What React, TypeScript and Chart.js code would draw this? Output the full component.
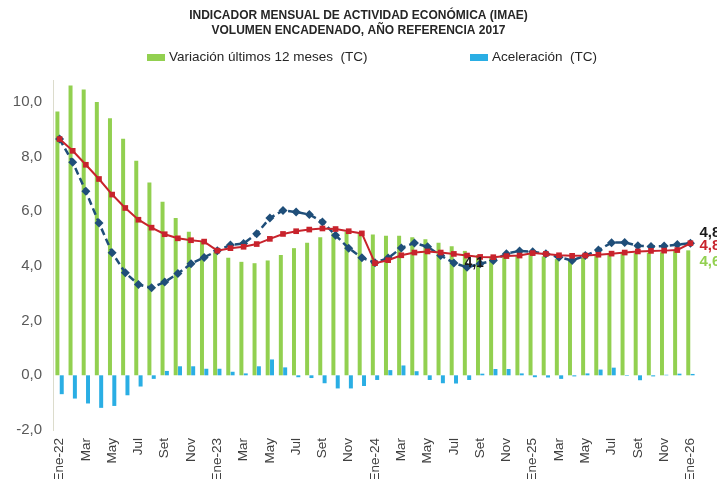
import React, { useEffect, useRef } from "react";
import { Chart, registerables } from "chart.js";

Chart.register(...registerables);

const TITLE_LINES = [
  "INDICADOR MENSUAL DE ACTIVIDAD ECONÓMICA (IMAE)",
  "VOLUMEN ENCADENADO, AÑO REFERENCIA 2017",
];

const categories = [
  "Ene-22", "Feb", "Mar", "Abr", "May", "Jun", "Jul", "Ago", "Set", "Oct", "Nov", "Dic",
  "Ene-23", "Feb", "Mar", "Abr", "May", "Jun", "Jul", "Ago", "Set", "Oct", "Nov", "Dic",
  "Ene-24", "Feb", "Mar", "Abr", "May", "Jun", "Jul", "Ago", "Set", "Oct", "Nov", "Dic",
  "Ene-25", "Feb", "Mar", "Abr", "May", "Jun", "Jul", "Ago", "Set", "Oct", "Nov", "Dic",
  "Ene-26",
];

// Variación últimos 12 meses (TC) - green bars
const variacion12 = [
  9.65, 10.6, 10.45, 10.0, 9.4, 8.65, 7.85, 7.05, 6.35, 5.75, 5.25, 4.9,
  4.5, 4.3, 4.15, 4.1, 4.2, 4.4, 4.65, 4.85, 5.05, 5.2, 5.25, 5.2,
  5.15, 5.1, 5.1, 5.05, 4.98, 4.85, 4.72, 4.55, 4.4, 4.3, 4.35, 4.4,
  4.45, 4.35, 4.25, 4.2, 4.3, 4.38, 4.45, 4.5, 4.48, 4.48, 4.5, 4.55,
  4.57,
];

// Aceleración (TC) - blue bars
const aceleracion = [
  -0.69, -0.85, -1.03, -1.19, -1.12, -0.73, -0.41, -0.13, 0.16, 0.33, 0.33, 0.24,
  0.24, 0.13, 0.07, 0.33, 0.58, 0.29, -0.07, -0.1, -0.29, -0.48, -0.48, -0.39,
  -0.17, 0.19, 0.36, 0.15, -0.17, -0.29, -0.3, -0.17, 0.06, 0.23, 0.23, 0.07,
  -0.07, -0.08, -0.13, -0.04, 0.07, 0.21, 0.28, -0.02, -0.18, -0.04, 0.02, 0.06,
  0.05,
];

// Red line with square markers
const lineaRoja = [
  8.64, 8.21, 7.7, 7.18, 6.61, 6.12, 5.69, 5.4, 5.16, 5.01, 4.94, 4.89,
  4.56, 4.65, 4.7, 4.8, 4.99, 5.17, 5.27, 5.33, 5.37, 5.35, 5.27, 5.19,
  4.1, 4.21, 4.39, 4.49, 4.53, 4.49, 4.44, 4.38, 4.33, 4.32, 4.36, 4.38,
  4.47, 4.44, 4.39, 4.37, 4.38, 4.41, 4.45, 4.49, 4.53, 4.55, 4.56, 4.58,
  4.83,
];

// Dark blue dashed line with diamond markers
const lineaAzul = [
  8.64, 7.79, 6.73, 5.57, 4.48, 3.75, 3.32, 3.2, 3.41, 3.72, 4.08, 4.31,
  4.56, 4.77, 4.82, 5.18, 5.75, 6.03, 5.97, 5.88, 5.61, 5.12, 4.65, 4.3,
  4.12, 4.29, 4.66, 4.84, 4.7, 4.38, 4.11, 3.95, 4.08, 4.2, 4.45, 4.55,
  4.52, 4.45, 4.32, 4.2, 4.38, 4.58, 4.85, 4.86, 4.74, 4.71, 4.73, 4.78,
  4.83,
];

const yTicks = { min: -2, max: 10.8, step: 2 };

const innerLabel = { index: 32, value: 4.1, text: "4,1" };

const GREEN = "#92d050";
const CYAN = "#2aaee4";
const RED = "#c8232c";
const NAVY = "#1f4e79";
const FONT = '"Liberation Sans", Arial, sans-serif';

const fmt = (v: number) => v.toFixed(1).replace(".", ",");

const overlayPlugin = {
  id: "overlay",
  afterDraw(chart: any) {
    const ctx = chart.ctx as CanvasRenderingContext2D;
    const xs = chart.scales.x;
    const ys = chart.scales.y;
    ctx.save();
    // title
    ctx.fillStyle = "#262626";
    ctx.font = `bold 12px ${FONT}`;
    ctx.textAlign = "center";
    ctx.textBaseline = "middle";
    ctx.fillText(TITLE_LINES[0], chart.width / 2, 16);
    ctx.fillText(TITLE_LINES[1], chart.width / 2, 31);

    // legend
    const bars = chart.data.datasets.filter((d: any) => d.type === "bar");
    const legendX = [147, 470];
    ctx.font = `13.5px ${FONT}`;
    ctx.textAlign = "left";
    bars.forEach((d: any, i: number) => {
      ctx.fillStyle = d.backgroundColor;
      ctx.fillRect(legendX[i], 54, 18, 7);
      ctx.fillStyle = "#262626";
      ctx.fillText(d.label, legendX[i] + 22, 57.5);
    });

    // end labels
    const last = categories.length - 1;
    const px = xs.getPixelForValue(last) + 9;
    ctx.font = `bold 15px ${FONT}`;
    ctx.fillStyle = "#1a1a1a";
    ctx.fillText(fmt(lineaAzul[last]), px, ys.getPixelForValue(lineaAzul[last]) - 10);
    ctx.fillStyle = RED;
    ctx.fillText(fmt(lineaRoja[last]), px, ys.getPixelForValue(lineaRoja[last]) + 3);
    ctx.fillStyle = GREEN;
    ctx.fillText(fmt(variacion12[last]), px, ys.getPixelForValue(variacion12[last]) + 12);

    // inner label
    ctx.font = `bold 14px ${FONT}`;
    ctx.fillStyle = "#1a1a1a";
    ctx.textAlign = "center";
    ctx.fillText(innerLabel.text, xs.getPixelForValue(innerLabel.index) - 6, ys.getPixelForValue(innerLabel.value));
    ctx.restore();
  },
};

export default function App() {
  const ref = useRef<HTMLCanvasElement | null>(null);

  useEffect(() => {
    document.body.style.margin = "0";
    document.body.style.overflow = "hidden";
    if (!ref.current) return;
    Chart.defaults.font.family = FONT;
    const chart = new Chart(ref.current, {
      type: "bar",
      data: {
        labels: categories,
        datasets: [
          {
            type: "line",
            label: "Línea roja",
            data: lineaRoja,
            borderColor: RED,
            backgroundColor: RED,
            borderWidth: 2,
            pointStyle: "rect",
            pointRadius: 4,
            pointBorderWidth: 0,
            tension: 0,
            order: 0,
          } as any,
          {
            type: "line",
            label: "Línea azul",
            data: lineaAzul,
            borderColor: NAVY,
            backgroundColor: NAVY,
            borderWidth: 2.5,
            borderDash: [7, 4],
            pointStyle: "rectRot",
            pointRadius: 4.5,
            pointBorderWidth: 0,
            tension: 0,
            order: 1,
          } as any,
          {
            type: "bar",
            label: "Variación últimos 12 meses  (TC)",
            data: variacion12,
            backgroundColor: GREEN,
            categoryPercentage: 0.66,
            barPercentage: 0.92,
            order: 2,
          },
          {
            type: "bar",
            label: "Aceleración  (TC)",
            data: aceleracion,
            backgroundColor: CYAN,
            categoryPercentage: 0.66,
            barPercentage: 0.92,
            order: 3,
          },
        ],
      },
      options: {
        responsive: true,
        maintainAspectRatio: false,
        animation: false,
        layout: { padding: { top: 80, left: 13, right: 20, bottom: 0 } },
        plugins: {
          legend: { display: false },
          title: { display: false },
          tooltip: { enabled: false },
        },
        scales: {
          x: {
            grid: { display: false, drawTicks: false },
            border: { display: false },
            ticks: {
              autoSkip: false,
              maxRotation: 90,
              minRotation: 90,
              padding: 8,
              color: "#404040",
              font: { size: 13.5, family: FONT },
              callback: (_v: any, i: number) => (i % 2 === 0 ? categories[i] : null),
            },
            afterFit: (s: any) => {
              s.height = 49;
            },
          },
          y: {
            min: yTicks.min,
            max: yTicks.max,
            grid: { display: false, drawTicks: false },
            border: { display: true, color: "#dcdccc", width: 1 },
            ticks: {
              stepSize: yTicks.step,
              includeBounds: false,
              padding: 11,
              color: "#595959",
              font: { size: 15, family: FONT },
              callback: (v: any) => fmt(Number(v)),
            },
            afterFit: (s: any) => {
              s.width = 40;
            },
          },
        },
      },
      plugins: [overlayPlugin],
    });
    return () => chart.destroy();
  }, []);

  return (
    <div style={{ width: 717, height: 479, position: "relative" }}>
      <canvas ref={ref} />
    </div>
  );
}
